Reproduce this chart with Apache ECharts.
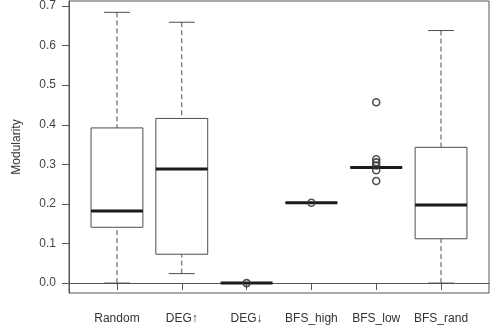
<!DOCTYPE html>
<html>
<head>
<meta charset="utf-8">
<script src="https://cdn.jsdelivr.net/npm/echarts@6/dist/echarts.min.js"></script>
<style>
  html, body { margin: 0; padding: 0; background: #fff; }
  #chart { width: 491px; height: 331px; }
</style>
</head>
<body>
<div id="chart"></div>
<script>
// groups along the x axis
var categories = ['Random', 'DEG\u2191', 'DEG\u2193', 'BFS_high', 'BFS_low', 'BFS_rand'];

// box statistics, one value per group
var lowerWhisker = [0.000, 0.024, 0.000, 0.203, 0.292, 0.000];
var q1           = [0.141, 0.073, 0.000, 0.203, 0.292, 0.112];
var median       = [0.182, 0.288, 0.000, 0.203, 0.292, 0.197];
var q3           = [0.392, 0.416, 0.000, 0.203, 0.292, 0.343];
var upperWhisker = [0.684, 0.659, 0.000, 0.203, 0.292, 0.638];

// outlier points (group index starting at 1, value)
var outlierGroup = [3, 4, 5, 5, 5, 5, 5, 5];
var outlierValue = [0.000, 0.203, 0.457, 0.313, 0.305, 0.297, 0.285, 0.258];

var yTicks = [0, 0.1, 0.2, 0.3, 0.4, 0.5, 0.6, 0.7];
var xTicks = [1, 2, 3, 4, 5, 6];

var boxData = categories.map(function (c, i) {
    return [i + 1, lowerWhisker[i], q1[i], median[i], q3[i], upperWhisker[i]];
});
var outlierData = outlierGroup.map(function (g, i) {
    return [g, outlierValue[i]];
});

function renderBox(params, api) {
    var x = api.value(0);
    var lo = api.coord([x, api.value(1)]);
    var b1 = api.coord([x, api.value(2)]);
    var md = api.coord([x, api.value(3)]);
    var b3 = api.coord([x, api.value(4)]);
    var hi = api.coord([x, api.value(5)]);
    var left = api.coord([x - 0.4, 0])[0];
    var right = api.coord([x + 0.4, 0])[0];
    var capL = api.coord([x - 0.2, 0])[0];
    var capR = api.coord([x + 0.2, 0])[0];
    var lineCol = '#4d4d4d';
    var children = [];
    // dashed whiskers
    children.push({ type: 'line', shape: { x1: hi[0], y1: hi[1], x2: b3[0], y2: b3[1] },
        style: { stroke: lineCol, lineWidth: 1, lineDash: [5, 3] } });
    children.push({ type: 'line', shape: { x1: lo[0], y1: lo[1], x2: b1[0], y2: b1[1] },
        style: { stroke: lineCol, lineWidth: 1, lineDash: [5, 3] } });
    // caps
    children.push({ type: 'line', shape: { x1: capL, y1: hi[1], x2: capR, y2: hi[1] },
        style: { stroke: lineCol, lineWidth: 1 } });
    children.push({ type: 'line', shape: { x1: capL, y1: lo[1], x2: capR, y2: lo[1] },
        style: { stroke: lineCol, lineWidth: 1 } });
    // box
    children.push({ type: 'rect', shape: { x: left, y: b3[1], width: right - left, height: b1[1] - b3[1] },
        style: { fill: '#fff', stroke: lineCol, lineWidth: 1 } });
    // median
    children.push({ type: 'line', shape: { x1: left, y1: md[1], x2: right, y2: md[1] },
        style: { stroke: '#1a1a1a', lineWidth: 3 } });
    return { type: 'group', children: children };
}

var chart = echarts.init(document.getElementById('chart'));
var option = {
    animation: false,
    grid: {
        left: 69, right: 2, top: 1, bottom: 38,
        show: true, borderColor: '#555', borderWidth: 1, backgroundColor: '#fff'
    },
    textStyle: { fontFamily: 'Liberation Sans, Arial, sans-serif' },
    xAxis: {
        type: 'value',
        min: 0.26, max: 6.74,
        splitLine: { show: false },
        axisLine: { show: true, lineStyle: { color: '#555' } },
        axisTick: { show: true, length: 7, customValues: xTicks, lineStyle: { color: '#555' } },
        axisLabel: {
            customValues: xTicks,
            margin: 20,
            fontSize: 12,
            color: '#333',
            formatter: function (v) { return categories[Math.round(v) - 1]; }
        }
    },
    yAxis: {
        type: 'value',
        min: -0.025, max: 0.7126,
        name: 'Modularity',
        nameLocation: 'middle',
        nameGap: 46,
        nameRotate: 90,
        nameTextStyle: { fontSize: 12, color: '#333' },
        splitLine: { show: false },
        axisLine: { show: true, lineStyle: { color: '#555' } },
        axisTick: { show: true, length: 7, customValues: yTicks, lineStyle: { color: '#555' } },
        axisLabel: {
            customValues: yTicks,
            margin: 13,
            fontSize: 12,
            color: '#444',
            formatter: function (v) { return v.toFixed(1); }
        }
    },
    series: [
        {
            type: 'custom',
            renderItem: renderBox,
            encode: { x: 0, y: [1, 2, 3, 4, 5] },
            data: boxData,
            z: 2
        },
        {
            type: 'scatter',
            symbol: 'circle',
            symbolSize: 7,
            itemStyle: { color: 'rgba(0,0,0,0)', borderColor: '#333', borderWidth: 1.6, opacity: 0.85 },
            data: outlierData,
            z: 3
        }
    ]
};
chart.setOption(option);
</script>
</body>
</html>
